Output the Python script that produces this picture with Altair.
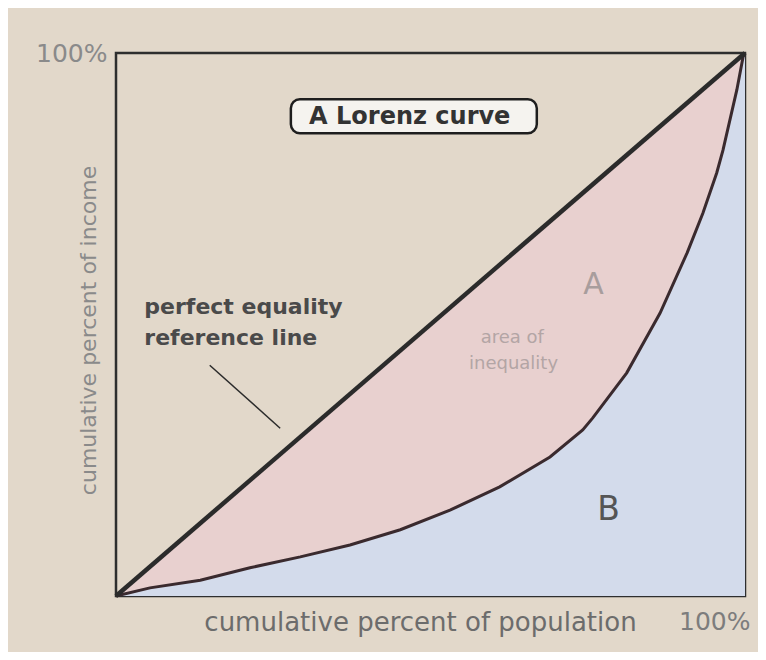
import altair as alt
import pandas as pd

# Lorenz curve (cumulative % population, cumulative % income)
pop_pct = [0, 5.4, 13.4, 21.3, 29.3, 37.2, 45.2, 53.1, 61.0, 69.0, 74.2, 75.8,
           81.2, 86.5, 90.8, 93.3, 95.5, 96.5, 98.7, 99.7, 100]
income_pct = [0, 1.5, 2.9, 5.2, 7.2, 9.4, 12.2, 15.8, 20.1, 25.6, 30.6, 32.8,
              41.1, 52.1, 63.2, 70.5, 77.9, 82.1, 93.2, 99.3, 100]

# line of perfect equality
equality_x = [0, 100]
equality_y = [0, 100]

# annotation texts
box_label = ["A Lorenz curve"]
ref_lines = ["perfect equality", "reference line"]
area_a = ["A"]
area_a_note = ["area of", "inequality"]
area_b = ["B"]

BG = "#e2d8ca"
PINK = "#e8d0cf"
BLUE = "#d3dbeb"
DARK = "#2b2b2b"
FONT = "DejaVu Sans"

curve = pd.DataFrame({"x": pop_pct, "y": income_pct})
diag = pd.DataFrame({"x": equality_x, "y": equality_y})

xs = alt.Scale(domain=[0, 100], nice=False, zero=False)
ys = alt.Scale(domain=[0, 100], nice=False, zero=False)

x_axis = alt.Axis(
    values=[100], labelExpr="'100%'", ticks=False, domain=False, grid=False,
    labelAlign="right", labelOffset=5, labelPadding=13, labelFontSize=25,
    labelColor="#7d7d7d", labelFont=FONT,
    title="cumulative percent of population", titleFont=FONT, titleFontSize=26,
    titleFontWeight="normal", titleColor="#6c6c6c", titleX=304, titleY=26,
    titleAnchor="middle", titleBaseline="middle",
)
y_axis = alt.Axis(
    values=[100], labelExpr="'100%'", ticks=False, domain=False, grid=False,
    labelPadding=9, labelFontSize=25, labelColor="#8a8a8a", labelFont=FONT,
    title="cumulative percent of income", titleFont=FONT, titleFontSize=22,
    titleFontWeight="normal", titleColor="#8a8a8a", titleX=-28, titleY=277,
    titleAnchor="middle", titleBaseline="middle", titleAngle=-90,
)

pink = alt.Chart(diag).mark_area(color=PINK, opacity=1).encode(
    x=alt.X("x:Q", scale=xs, axis=x_axis),
    y=alt.Y("y:Q", scale=ys, axis=y_axis),
)
blue = alt.Chart(curve).mark_area(color=BLUE, opacity=1).encode(
    x=alt.X("x:Q", scale=xs), y=alt.Y("y:Q", scale=ys)
)
curve_line = alt.Chart(curve).mark_line(color="#3a2a2e", strokeWidth=3).encode(
    x=alt.X("x:Q", scale=xs), y=alt.Y("y:Q", scale=ys)
)
diag_line = alt.Chart(diag).mark_line(color=DARK, strokeWidth=4.5).encode(
    x=alt.X("x:Q", scale=xs), y=alt.Y("y:Q", scale=ys)
)

# leader line from the label to the equality line
pointer = alt.Chart(pd.DataFrame({"x": [14.9], "y": [42.5], "x2": [26.1], "y2": [30.9]})).mark_rule(
    color=DARK, strokeWidth=1.5
).encode(x=alt.X("x:Q", scale=xs), y=alt.Y("y:Q", scale=ys), x2="x2:Q", y2="y2:Q")

# title box
box = alt.Chart(pd.DataFrame({"x": [27.8], "x2": [66.9], "y": [85.2], "y2": [91.5]})).mark_rect(
    fill="#f5f3ef", stroke="#1e1e1e", strokeWidth=2.5, cornerRadius=9
).encode(x=alt.X("x:Q", scale=xs), x2="x2:Q", y=alt.Y("y:Q", scale=ys), y2="y2:Q")
box_text = alt.Chart(pd.DataFrame({"t": box_label, "x": [46.7], "y": [88.3]})).mark_text(
    font=FONT, fontSize=24, fontWeight="bold", color="#333333", align="center", baseline="middle"
).encode(x=alt.X("x:Q", scale=xs), y=alt.Y("y:Q", scale=ys), text="t:N")

ref_text = alt.Chart(pd.DataFrame({"t": ref_lines, "x": [4.5, 4.5], "y": [53.2, 47.5]})).mark_text(
    font=FONT, fontSize=22, fontWeight="bold", color="#4a4a4a", align="left", baseline="middle"
).encode(x=alt.X("x:Q", scale=xs), y=alt.Y("y:Q", scale=ys), text="t:N")

a_text = alt.Chart(pd.DataFrame({"t": area_a, "x": [75.9], "y": [57.3]})).mark_text(
    font=FONT, fontSize=30, color="#a89d9d", align="center", baseline="middle"
).encode(x=alt.X("x:Q", scale=xs), y=alt.Y("y:Q", scale=ys), text="t:N")

a_note = alt.Chart(pd.DataFrame({"t": area_a_note, "x": [63.0, 63.2], "y": [47.6, 42.8]})).mark_text(
    font=FONT, fontSize=18, color="#b3a5a5", align="center", baseline="middle"
).encode(x=alt.X("x:Q", scale=xs), y=alt.Y("y:Q", scale=ys), text="t:N")

b_text = alt.Chart(pd.DataFrame({"t": area_b, "x": [78.3], "y": [15.8]})).mark_text(
    font=FONT, fontSize=33, color="#555555", align="center", baseline="middle"
).encode(x=alt.X("x:Q", scale=xs), y=alt.Y("y:Q", scale=ys), text="t:N")

chart = alt.layer(
    pink, blue, curve_line, diag_line, pointer, box, box_text, ref_text, a_text, a_note, b_text
).properties(
    width=629, height=543,
    background=BG,
    padding={"left": 108, "top": 45, "right": 13, "bottom": 56},
    autosize=alt.AutoSizeParams(type="none"),
).configure_view(
    stroke="#2e2e2e", strokeWidth=2.5, fill=BG
)

chart.save("out.html", embed_options={"renderer": "svg", "actions": False})
